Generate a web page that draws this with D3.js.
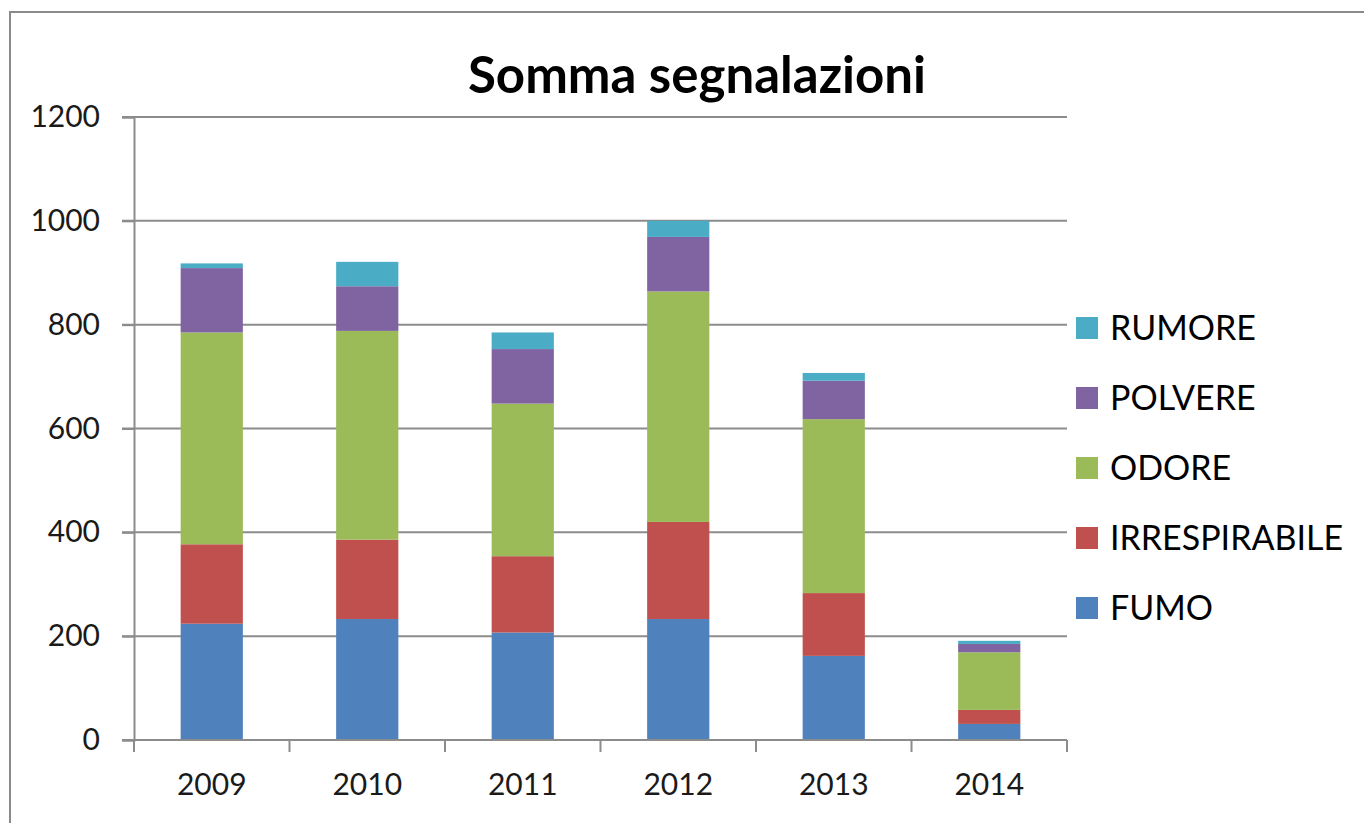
<!DOCTYPE html>
<html>
<head>
<meta charset="utf-8">
<script src="https://cdn.jsdelivr.net/npm/d3@7"></script>
<style>
  body { margin: 0; background: #fff; }
  svg { display: block; }
</style>
</head>
<body>
<svg id="ch" width="1364" height="823"></svg>
<script>
// dati
var anni = ["2009", "2010", "2011", "2012", "2013", "2014"];
var serie = ["FUMO", "IRRESPIRABILE", "ODORE", "POLVERE", "RUMORE"];
var fumo = [224, 233, 207, 233, 162, 31];
var irrespirabile = [153, 153, 147, 187, 121, 27];
var odore = [408, 402, 294, 444, 335, 111];
var polvere = [124, 86, 105, 105, 74, 16];
var rumore = [9, 47, 32, 31, 15, 6];
var yTicks = [0, 200, 400, 600, 800, 1000, 1200];
var colori = ["#4F81BD", "#C0504D", "#9BBB59", "#8064A2", "#4BACC6"];

var valori = [fumo, irrespirabile, odore, polvere, rumore];
var data = anni.map(function (a, i) {
    var r = {anno: a};
    serie.forEach(function (s, k) { r[s] = valori[k][i]; });
    return r;
});

var svg = d3.select("#ch");
var font = "Lato, 'Open Sans', sans-serif";

// cornice
svg.append("rect")
    .attr("x", 10).attr("y", 12)
    .attr("width", 1400).attr("height", 900)
    .attr("fill", "none")
    .attr("stroke", "#8a8a8a")
    .attr("stroke-width", 2);

var margin = {top: 117, left: 134, right: 1067, bottom: 740};

var x = d3.scaleBand()
    .domain(anni)
    .range([margin.left, margin.right])
    .paddingInner(0.6)
    .paddingOuter(0.3);
var xb = d3.scaleBand().domain(anni).range([margin.left, margin.right]);

var y = d3.scaleLinear()
    .domain([0, 1200])
    .range([margin.bottom, margin.top]);

var color = d3.scaleOrdinal().domain(serie).range(colori);

// griglia
svg.append("g").selectAll("line")
    .data(yTicks)
    .enter().append("line")
    .attr("x1", margin.left - 12).attr("x2", margin.right)
    .attr("y1", function (d) { return y(d); })
    .attr("y2", function (d) { return y(d); })
    .attr("stroke", "#8c8c8c")
    .attr("stroke-width", 2);

// asse y
var yAxis = svg.append("g")
    .attr("transform", "translate(" + margin.left + ",0)")
    .call(d3.axisLeft(y).tickValues(yTicks).tickFormat(d3.format("d")).tickSize(12).tickPadding(22));
yAxis.select(".domain").attr("stroke", "#8c8c8c").attr("stroke-width", 2);
yAxis.selectAll(".tick line").attr("stroke", "#8c8c8c").attr("stroke-width", 2);
yAxis.selectAll("text")
    .style("font-family", font).style("font-size", "30px").attr("fill", "#1a1a1a");

// barre impilate
var stack = d3.stack().keys(serie)(data);
svg.append("g").selectAll("g")
    .data(stack)
    .enter().append("g")
    .attr("fill", function (d) { return color(d.key); })
    .selectAll("rect")
    .data(function (d) { return d; })
    .enter().append("rect")
    .attr("x", function (d) { return x(d.data.anno); })
    .attr("width", x.bandwidth())
    .attr("y", function (d) { return y(d[1]); })
    .attr("height", function (d) { return y(d[0]) - y(d[1]); });

// asse x
var xAxis = svg.append("g")
    .attr("transform", "translate(0," + margin.bottom + ")");
xAxis.append("line")
    .attr("x1", margin.left).attr("x2", margin.right)
    .attr("stroke", "#8c8c8c").attr("stroke-width", 2);
xAxis.selectAll(".tk")
    .data(anni.concat(["fine"]))
    .enter().append("line")
    .attr("class", "tk")
    .attr("x1", function (d, i) { return i < anni.length ? xb(d) : margin.right; })
    .attr("x2", function (d, i) { return i < anni.length ? xb(d) : margin.right; })
    .attr("y1", 0).attr("y2", 12)
    .attr("stroke", "#8c8c8c").attr("stroke-width", 2);
xAxis.selectAll("text")
    .data(anni)
    .enter().append("text")
    .attr("x", function (d) { return xb(d) + xb.bandwidth() / 2; })
    .attr("y", 55)
    .attr("text-anchor", "middle")
    .style("font-family", font).style("font-size", "30px").attr("fill", "#1a1a1a")
    .text(function (d) { return d; });

// titolo
svg.append("text")
    .attr("x", 697).attr("y", 93)
    .attr("text-anchor", "middle")
    .style("font-family", font).style("font-size", "51px").style("font-weight", "bold")
    .attr("fill", "#000")
    .text("Somma segnalazioni");

// legenda
var leg = svg.append("g").selectAll("g")
    .data(serie.slice().reverse())
    .enter().append("g")
    .attr("transform", function (d, i) { return "translate(1076," + (317 + i * 70) + ")"; });
leg.append("rect")
    .attr("width", 22).attr("height", 22)
    .attr("fill", function (d) { return color(d); });
leg.append("text")
    .attr("x", 34).attr("y", 23)
    .style("font-family", font).style("font-size", "34px").attr("fill", "#000")
    .text(function (d) { return d; });
</script>
</body>
</html>
